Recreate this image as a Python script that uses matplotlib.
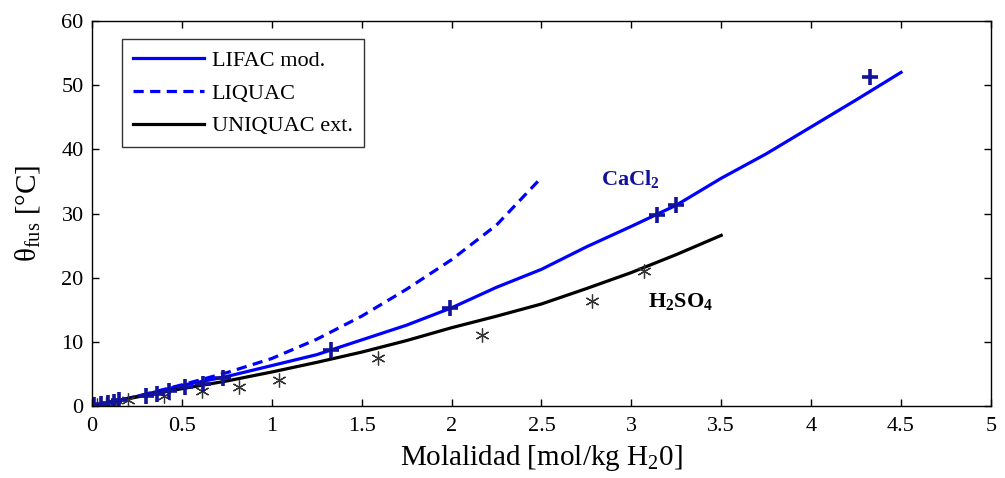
import matplotlib
matplotlib.use("Agg")
import matplotlib.pyplot as plt

plt.rcParams['font.family'] = ['Liberation Serif', 'DejaVu Serif']
plt.rcParams['mathtext.fontset'] = 'custom'
plt.rcParams['mathtext.rm'] = 'Liberation Serif'
plt.rcParams['mathtext.it'] = 'Liberation Serif:italic'
plt.rcParams['mathtext.bf'] = 'Liberation Serif:bold'

# Model curves
lifac_x = [0, 0.25, 0.5, 0.75, 1, 1.25, 1.5, 1.75, 2, 2.25, 2.5, 2.75, 3, 3.25, 3.5, 3.75, 4, 4.25, 4.5]
lifac_y = [0, 1.5, 3.2, 4.6, 6.3, 8.0, 10.3, 12.6, 15.3, 18.5, 21.3, 24.8, 28.0, 31.3, 35.5, 39.3, 43.5, 47.7, 52.0]

liquac_x = [0, 0.25, 0.5, 0.75, 1, 1.25, 1.5, 1.75, 2, 2.25, 2.5]
liquac_y = [0, 1.5, 3.3, 5.2, 7.4, 10.4, 14.0, 18.2, 22.8, 28.2, 35.6]

uniquac_x = [0, 0.25, 0.5, 0.75, 1, 1.25, 1.5, 1.75, 2, 2.25, 2.5, 2.75, 3, 3.25, 3.5]
uniquac_y = [0, 1.4, 2.7, 3.9, 5.3, 6.8, 8.4, 10.2, 12.2, 14.0, 15.9, 18.3, 20.8, 23.6, 26.6]

# Experimental data
cacl2_x = [0.01, 0.05, 0.09, 0.12, 0.15, 0.30, 0.36, 0.43, 0.52, 0.62, 0.73, 1.33, 1.99, 3.14, 3.25, 4.33]
cacl2_y = [0.1, 0.3, 0.5, 0.7, 0.9, 1.5, 1.9, 2.4, 3.0, 3.5, 4.3, 8.7, 15.3, 29.8, 31.4, 51.2]

h2so4_x = [0.03, 0.08, 0.12, 0.20, 0.40, 0.61, 0.82, 1.04, 1.59, 2.17, 2.78, 3.07]
h2so4_y = [0.1, 0.3, 0.5, 0.9, 1.5, 2.4, 3.0, 4.1, 7.5, 11.1, 16.3, 21.1]

xticks = [0, 0.5, 1, 1.5, 2, 2.5, 3, 3.5, 4, 4.5, 5]
xticklabels = ['0', '0.5', '1', '1.5', '2', '2.5', '3', '3.5', '4', '4.5', '5']
yticks = [0, 10, 20, 30, 40, 50, 60]

fig = plt.figure(figsize=(10.05, 4.78), dpi=100)
ax = fig.add_axes([0.0915, 0.1506, 0.8945, 0.8054])

l1, = ax.plot(lifac_x, lifac_y, color='#0000ff', lw=2.3, label='LIFAC mod.')
l2, = ax.plot(liquac_x, liquac_y, color='#0000ff', lw=2.3, ls=(0, (3.2, 2.0)), label='LIQUAC')
l3, = ax.plot(uniquac_x, uniquac_y, color='black', lw=2.3, label='UNIQUAC ext.')

ax.plot(h2so4_x, h2so4_y, ls='none', marker=(6, 2, 0), ms=10, mew=0.9, color='#333333')
ax.plot(cacl2_x, cacl2_y, ls='none', marker='+', ms=12, mew=2.6, color='#12129a')

ax.text(2.83, 34.4, r'CaCl$_\mathbf{2}$', color='#12129a', fontsize=16, fontweight='bold')
ax.text(3.09, 15.4, r'H$_\mathbf{2}$SO$_\mathbf{4}$', color='black', fontsize=16, fontweight='bold')

ax.set_xlim(0, 5)
ax.set_ylim(0, 60)
ax.set_xticks(xticks)
ax.set_xticklabels(xticklabels)
ax.set_yticks(yticks)
ax.tick_params(direction='in', length=5, width=1, top=True, right=True, labelsize=16)
ax.tick_params(axis='x', pad=8)
ax.tick_params(axis='y', pad=6)
for s in ax.spines.values():
    s.set_linewidth(1.0)

ax.set_xlabel(r'Molalidad [mol/kg H$_2$0]', fontsize=21, labelpad=5)
ax.set_ylabel(r'θ$_{\rm fus}$ [°C]', fontsize=21, labelpad=14)

leg = ax.legend(handles=[l1, l2, l3], loc='upper left', bbox_to_anchor=(0.033, 0.953),
                borderaxespad=0, fontsize=16, handlelength=3.2, handletextpad=0.35,
                frameon=True, fancybox=False, edgecolor='black', borderpad=0.5,
                labelspacing=0.55)
leg.get_frame().set_linewidth(1.0)

fig.savefig('out.png', dpi=100)
